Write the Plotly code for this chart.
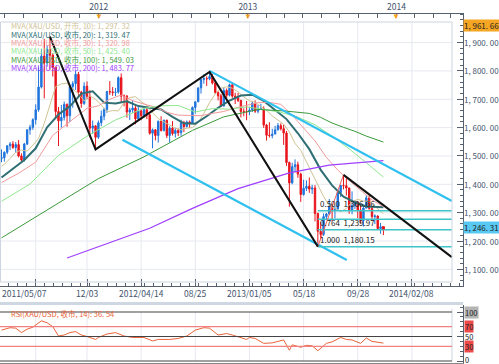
import pandas as pd
import plotly.graph_objects as go

W, H = 499, 364

# ---------------- data (weekly XAU/USD, week labels = Saturday) ----------------
week_start = "2011-05-07"
opens = [1491,1494,1513,1536,1542,1530,1540,1500,1486,1542,1592,1601,1628,1663,1743,1852,1828,1876,1855,1813,
         1657,1624,1636,1682,1642,1745,1755,1788,1725,1685,1746,1711,1598,1606,1566,1617,1640,1664,1727,1726,
         1724,1725,1776,1711,1711,1655,1662,1669,1631,1659,1642,1663,1645,1580,1592,1572,1622,1590,1626,1572,
         1598,1579,1590,1582,1618,1604,1620,1616,1671,1691,1740,1770,1773,1772,1780,1757,1724,1712,1676,1731,
         1714,1751,1711,1705,1696,1657,1656,1656,1662,1686,1658,1667,1667,1609,1573,1572,1577,1592,1607,1596,
         1581,1477,1405,1462,1469,1436,1364,1386,1393,1383,1387,1297,1234,1223,1286,1295,1322,1310,1313,1371,
         1396,1395,1387,1308,1325,1338,1309,1272,1316,1352,1315,1286,1288,1244,1250]
highs = [1523,1516,1537,1549,1552,1549,1556,1509,1546,1594,1610,1633,1682,1815,1877,1913,1890,1921,1862,1815,
         1673,1680,1692,1685,1750,1764,1803,1796,1730,1760,1763,1732,1625,1609,1625,1660,1670,1730,1764,1743,
         1740,1781,1791,1717,1715,1670,1696,1680,1676,1665,1670,1673,1648,1597,1595,1625,1640,1628,1628,1605,
         1623,1599,1597,1628,1624,1625,1625,1675,1692,1742,1772,1788,1781,1796,1789,1762,1728,1719,1741,1738,
         1755,1754,1723,1722,1698,1668,1694,1673,1694,1696,1680,1684,1675,1613,1619,1596,1606,1616,1615,1610,
         1588,1480,1476,1488,1480,1441,1416,1414,1424,1398,1397,1300,1267,1297,1299,1348,1331,1324,1380,1397,
         1433,1424,1388,1375,1344,1338,1328,1323,1361,1361,1322,1294,1290,1264,1250]
lows = [1478,1480,1506,1521,1525,1511,1495,1478,1480,1538,1575,1592,1611,1656,1738,1703,1815,1805,1780,1630,
        1535,1600,1625,1603,1619,1670,1733,1705,1670,1680,1700,1565,1578,1523,1560,1605,1626,1652,1715,1712,
        1711,1720,1688,1675,1635,1627,1652,1612,1628,1626,1635,1630,1575,1527,1555,1547,1586,1586,1563,1547,
        1572,1565,1570,1571,1584,1600,1599,1613,1649,1690,1720,1755,1747,1767,1752,1719,1696,1672,1675,1705,
        1710,1705,1683,1690,1636,1640,1626,1644,1655,1652,1650,1662,1599,1554,1565,1562,1577,1590,1590,1539,
        1465,1321,1400,1443,1423,1338,1360,1376,1370,1366,1269,1180,1207,1218,1275,1293,1270,1280,1310,1355,
        1382,1360,1296,1294,1313,1281,1261,1251,1316,1310,1270,1260,1240,1226,1221]
closes = [1494,1513,1536,1542,1530,1540,1500,1486,1542,1592,1601,1628,1663,1743,1852,1828,1876,1855,1813,1657,
          1624,1636,1682,1642,1745,1755,1788,1725,1685,1746,1711,1598,1606,1566,1617,1640,1664,1727,1726,1724,
          1725,1776,1711,1711,1655,1662,1669,1631,1659,1642,1663,1645,1580,1592,1572,1622,1590,1626,1572,1598,
          1579,1590,1582,1618,1604,1620,1616,1671,1691,1740,1770,1773,1772,1780,1757,1724,1712,1676,1731,1714,
          1751,1711,1705,1696,1657,1656,1656,1662,1686,1658,1667,1667,1609,1573,1572,1577,1592,1607,1596,1581,
          1477,1405,1462,1469,1436,1364,1386,1393,1383,1387,1297,1234,1223,1286,1295,1322,1310,1313,1371,1396,
          1395,1387,1308,1325,1338,1309,1272,1316,1352,1315,1286,1288,1244,1250,1246.31]

# moving averages (week index -> value)
ma10_idx = [0,1,3,5,7,9,11,13,15,17,19,21,23,25,27,29,31,33,35,37,39,41,43,45,47,49,51,53,55,57,59,61,63,65,67,69,
            71,73,75,77,79,81,83,85,87,89,91,93,95,97,99,101,103,105,107,109,111,113,115,117,119,121,123,125,127,129,131,133,134]
ma10_val = [1464,1470,1491,1513,1521,1517,1538,1562,1615,1681,1745,1754,1757,1736,1720,1694,1712,1700,1680,1656,1660,1659,
            1688,1706,1709,1692,1678,1652,1632,1620,1610,1598,1592,1598,1600,1617,1650,1688,1719,1739,1744,1739,1726,1708,
            1695,1689,1675,1661,1641,1626,1612,1585,1544,1520,1478,1436,1398,1357,1325,1313,1304,1315,1338,1347,1341,1340,
            1321,1305,1297.32]
ma20_idx = [0,4,8,12,16,20,24,28,32,36,40,44,48,52,56,60,64,68,72,76,80,84,88,92,96,100,104,108,112,116,120,124,128,132,134]
ma20_val = [1424,1455,1486,1527,1601,1646,1675,1720,1728,1688,1685,1693,1676,1670,1664,1638,1615,1614,1640,1670,1695,1713,
            1716,1694,1661,1630,1580,1524,1451,1396,1356,1336,1322,1321,1319.47]
ma30_idx = [0,6,12,18,24,30,34,38,42,46,50,54,58,62,66,70,74,78,82,86,90,94,98,102,106,110,114,118,122,126,130,134]
ma30_val = [1406,1439,1478,1573,1621,1668,1677,1700,1715,1695,1683,1672,1654,1644,1643,1642,1650,1657,1669,1678,1688,1689,
            1682,1644,1600,1553,1495,1450,1413,1378,1345,1320.98]
ma50_idx = [0,10,20,30,40,50,56,62,68,74,80,86,92,98,104,110,116,122,128,134]
ma50_val = [1340,1401,1502,1570,1627,1668,1677,1678,1655,1667,1665,1673,1664,1654,1637,1610,1570,1525,1476,1425.40]
ma100_idx = [0,17,34,50,67,78,90,99,104,108,112,116,120,124,128,132,134]
ma100_val = [1211,1317,1420,1497,1590,1638,1664,1659,1655,1650,1636,1616,1601,1587,1570,1555,1549.03]
ma200_idx = [23,34,52,67,83,101,115,134]
ma200_val = [1140,1180,1245,1315,1385,1440,1468,1483.77]

rsi_idx = [0,3,5,7,9,11,14,16,18,20,22,24,26,28,30,33,34,37,40,43,46,50,53,55,59,62,65,68,71,73,76,79,81,84,86,87,89,
           92,95,99,101,102,105,107,109,111,114,116,119,121,123,126,128,130,134]
rsi_val = [63,68,67,58,65,69,82,78,70,51,53,58,60,53,50,44,48,55,58,51,48,48,41,44,44,46,51,63,68,67,53,56,53,48,44,48,46,
           36,37,43,22,33,28,32,31,21,36,39,48,44,43,36,47,40,36.54]

# drawn analysis objects
zigzag_dates = ["2011-09-03", "2011-12-24", "2012-09-29", "2013-06-22"]
zigzag_prices = [1921, 1523, 1796, 1180.15]
down_trend_dates = ["2013-08-24", "2014-05-17"]
down_trend_prices = [1433.17, 1143]
chan_up_dates = ["2012-09-29", "2014-05-17"]
chan_up_prices = [1800, 1341]
chan_lo_dates = ["2012-02-28", "2013-09-01"]
chan_lo_prices = [1557, 1133]
fib_dates = ["2013-06-22", "2014-05-17"]
fib_swing_dates = ["2013-06-22", "2013-08-24"]
fib_swing_prices = [1180.15, 1433.17]
fib_ratios = [0.500, 0.618, 0.764, 1.000]
fib_prices = [1306.66, 1277.02, 1239.97, 1180.15]
fib_labelled = [0.500, 0.764, 1.000]

price_ticks = [1100, 1200, 1300, 1400, 1500, 1600, 1700, 1800, 1900]
grid_dates = ["2011-07-30", "2011-12-03", "2012-04-14", "2012-08-25", "2013-01-05", "2013-05-18", "2013-09-28", "2014-02-08"]
date_label_dates = ["2011-05-07", "2011-12-03", "2012-04-14", "2012-08-25", "2013-01-05", "2013-05-18", "2013-09-28", "2014-02-08"]
date_label_text = ["2011/05/07", "12/03", "2012/04/14", "08/25", "2013/01/05", "05/18", "09/28", "2014/02/08"]
year_dates = ["2012-01-01", "2013-01-01", "2014-01-01"]
last_price = 1246.31
top_marker_price = 1961.66

ma_labels = ["MVA(XAU/USD, 开市, 10): 1, 297. 32", "MVA(XAU/USD, 收市, 20): 1, 319. 47",
             "MVA(XAU/USD, 收市, 30): 1, 320. 98", "MVA(XAU/USD, 收市, 50): 1, 425. 40",
             "MVA(XAU/USD, 收市, 100): 1, 549. 03", "MVA(XAU/USD, 收市, 200): 1, 483. 77"]
ma_colors = ["#cfc393", "#2f6f74", "#f29a9a", "#8fe88f", "#3b9a3b", "#a040ff"]
ma_widths = [1, 2, 1, 1, 1, 1.3]
rsi_label = "RSI(XAU/USD, 收市, 14): 36. 54"

# ---------------- pixel calibration ----------------
REF_DATE, REF_X, PX_PER_DAY = pd.Timestamp("2011-12-03"), 87.0, 2.85 / 7
REF_P, REF_Y, PX_PER_USD = 1200.0, 241.0, 0.2835


def xdate(px):
    return REF_DATE + pd.Timedelta(days=(px - REF_X) / PX_PER_DAY)


def yprice(py):
    return REF_P + (REF_Y - py) / PX_PER_USD


def PX(px):
    return px / W


def PY(py):
    return 1 - py / H


RSI_Y100, RSI_Y0 = 312.0, 361.0
rsi_ppu = (RSI_Y0 - RSI_Y100) / 100.0


def rsi_at(py):
    return (RSI_Y0 - py) / rsi_ppu


dates = pd.date_range(week_start, periods=len(closes), freq="7D")


def fmt(v):
    s = f"{v:,.2f}"
    return s.replace(",", ", ").replace(".", ". ")


FONT = "Noto Sans CJK SC"
AXC = "#56606e"
LBL = "#44546e"

fig = go.Figure()

fig.add_trace(go.Candlestick(
    x=dates, open=opens, high=highs, low=lows, close=closes,
    increasing=dict(line=dict(color="#1f74dc", width=1), fillcolor="#1f74dc"),
    decreasing=dict(line=dict(color="#e8141c", width=1), fillcolor="#e8141c"),
    whiskerwidth=0, xaxis="x", yaxis="y", hoverinfo="skip"))

ma_sets = [(ma10_idx, ma10_val), (ma20_idx, ma20_val), (ma30_idx, ma30_val),
           (ma50_idx, ma50_val), (ma100_idx, ma100_val), (ma200_idx, ma200_val)]
for (idx, val), c, w in zip(ma_sets, ma_colors, ma_widths):
    fig.add_trace(go.Scatter(x=[dates[i] for i in idx], y=val, mode="lines",
                             line=dict(color=c, width=w), xaxis="x", yaxis="y"))

for dd, pp in [(chan_up_dates, chan_up_prices), (chan_lo_dates, chan_lo_prices)]:
    fig.add_trace(go.Scatter(x=dd, y=pp, mode="lines", line=dict(color="#30c0f0", width=2.2)))
for p in fib_prices:
    fig.add_trace(go.Scatter(x=fib_dates, y=[p, p], mode="lines", line=dict(color="#3cc4c8", width=1.5)))
fig.add_trace(go.Scatter(x=fib_swing_dates, y=fib_swing_prices, mode="lines",
                         line=dict(color="#f06060", width=1)))
fig.add_trace(go.Scatter(x=zigzag_dates, y=zigzag_prices, mode="lines", line=dict(color="#111111", width=2)))
fig.add_trace(go.Scatter(x=down_trend_dates, y=down_trend_prices, mode="lines", line=dict(color="#111111", width=2)))
fig.add_trace(go.Scatter(x=[dates[-1]], y=[last_price], mode="markers",
                         marker=dict(color="#e8141c", size=3, symbol="square")))

fig.add_trace(go.Scatter(x=[dates[i] for i in rsi_idx], y=rsi_val, mode="lines",
                         line=dict(color="#e8643a", width=1), xaxis="x3", yaxis="y3"))

x_range = [xdate(0), xdate(463)]
minor_ms = 19 * 7 / 6 * 86400000
top_ticks = pd.date_range("2011-05-15", "2014-06-10", freq="SMS")[::3]

shapes = []
for p in price_ticks:
    shapes.append(dict(type="line", xref="paper", yref="y", x0=PX(0), x1=PX(452), y0=p, y1=p,
                       line=dict(color="#e6e9ef", width=1), layer="below"))
for d in grid_dates:
    shapes.append(dict(type="line", xref="x", yref="paper", x0=d, x1=d, y0=PY(282), y1=PY(22),
                       line=dict(color="#e6e9ef", width=1), layer="below"))
    shapes.append(dict(type="line", xref="x", yref="paper", x0=d, x1=d, y0=PY(361), y1=PY(312),
                       line=dict(color="#e6e9ef", width=1), layer="below"))
shapes.append(dict(type="rect", xref="paper", yref="paper", x0=PX(0.5), x1=PX(452), y0=PY(282), y1=PY(22),
                   line=dict(color="#ccd5e0", width=1)))
shapes.append(dict(type="rect", xref="paper", yref="paper", x0=PX(0), x1=PX(463), y0=PY(305), y1=PY(302),
                   fillcolor="#cfd7e2", line=dict(width=0)))
shapes.append(dict(type="line", xref="paper", yref="paper", x0=PX(452), x1=PX(452), y0=PY(361), y1=PY(309),
                   line=dict(color="#ccd5e0", width=1)))
for lv, col in [(100, "#444444"), (70, "#f28080"), (50, "#444444"), (30, "#f28080"), (0, "#444444")]:
    shapes.append(dict(type="line", xref="paper", yref="y3", x0=PX(0), x1=PX(452), y0=lv, y1=lv,
                       line=dict(color=col, width=1.2)))

ann = []
ma_rows = [26, 34.3, 42.6, 51, 59.4, 67.8]
for t, c, r in zip(ma_labels, ma_colors, ma_rows):
    ann.append(dict(text=t, x=PX(9), y=PY(r), xref="paper", yref="paper", xanchor="left", yanchor="middle",
                    showarrow=False, font=dict(family=FONT, size=7.5, color=c)))
ann.append(dict(text=rsi_label, x=PX(9), y=PY(313), xref="paper", yref="paper", xanchor="left",
                yanchor="middle", showarrow=False, font=dict(family=FONT, size=7.5, color="#e8643a")))
for r, p in zip(fib_ratios, fib_prices):
    if r in fib_labelled:
        ann.append(dict(text=f"{r:.3f}  {p:,.2f}", x=fib_dates[0], y=p, xref="x", yref="y", xanchor="left",
                        yanchor="bottom", showarrow=False,
                        font=dict(family=FONT, size=8, color="#222222")))
for i, (d, t) in enumerate(zip(date_label_dates, date_label_text)):
    ann.append(dict(text=t, x=d if i else xdate(0), y=PY(293), xref="x", yref="paper",
                    xanchor="center" if i else "left", yanchor="middle",
                    showarrow=False, font=dict(family=FONT, size=8.5, color=LBL)))
for d in year_dates:
    ann.append(dict(text="▼", x=d, y=PY(15.5), xref="x", yref="paper", xanchor="center", yanchor="middle",
                    showarrow=False, font=dict(size=8, color="#f5a020")))
for v in price_ticks:
    ann.append(dict(text=fmt(v), x=PX(463), y=v, xref="paper", yref="y", xanchor="left", yanchor="middle",
                    showarrow=False, borderpad=0, font=dict(family=FONT, size=8, color=LBL)))
ann.append(dict(text=fmt(top_marker_price), x=PX(463), y=top_marker_price, xref="paper", yref="y",
                xanchor="left", yanchor="middle", showarrow=False, bgcolor="#f6a623", borderpad=0,
                font=dict(family=FONT, size=8, color="#222222")))
ann.append(dict(text=fmt(last_price), x=PX(463), y=last_price, xref="paper", yref="y",
                xanchor="left", yanchor="middle", showarrow=False, bgcolor="#59c8f2", borderpad=0,
                font=dict(family=FONT, size=8, color="#222222")))
for lv, bg in [(100, "#b4b4b4"), (70, "#ee4a4a"), (50, None), (30, "#ee4a4a"), (0, None)]:
    a = dict(text=str(lv), x=PX(464), y=lv, xref="paper", yref="y3", xanchor="left", yanchor="middle",
             yshift=2 if lv == 0 else 0,
             showarrow=False, borderpad=0, font=dict(family=FONT, size=7.5, color="#222222"))
    if bg:
        a["bgcolor"] = bg
    ann.append(a)

fig.update_layout(
    width=W, height=H, autosize=False, margin=dict(l=0, r=0, t=0, b=0),
    paper_bgcolor="white", plot_bgcolor="white", showlegend=False,
    xaxis=dict(domain=[0, PX(463)], range=x_range, type="date", anchor="y",
               showline=True, linecolor=AXC, linewidth=1, ticks="inside", ticklen=7, tickcolor=AXC,
               tickmode="array", tickvals=grid_dates, showticklabels=False, showgrid=False, zeroline=False,
               rangeslider=dict(visible=False),
               minor=dict(ticks="inside", ticklen=3, tickcolor=AXC, tickmode="linear",
                          tick0="2011-07-30", dtick=minor_ms, showgrid=False)),
    xaxis2=dict(overlaying="x", side="top", anchor="free", position=PY(13), range=x_range, type="date",
                showline=True, linecolor=AXC, ticks="inside", ticklen=4, tickcolor=AXC,
                tickmode="array", tickvals=list(top_ticks),
                ticktext=[str(t.year) if (t.month == 1 and t.day == 1) else "" for t in top_ticks],
                tickfont=dict(family=FONT, size=8.5, color=LBL), showgrid=False, zeroline=False),
    yaxis=dict(domain=[PY(286), PY(13)], range=[yprice(286), yprice(13)], side="right", anchor="x",
               showline=True, linecolor=AXC, ticks="inside", ticklen=6, tickcolor=AXC,
               tickmode="array", tickvals=price_ticks, showticklabels=False, showgrid=False, zeroline=False,
               minor=dict(ticks="inside", ticklen=3, tickcolor=AXC, dtick=20, tick0=0, showgrid=False)),
    xaxis3=dict(domain=[0, PX(463)], range=x_range, type="date", anchor="y3", showline=True,
                linecolor="#888888", ticks="", showticklabels=False, showgrid=False, zeroline=False),
    yaxis3=dict(domain=[PY(363), PY(305)], range=[rsi_at(363), rsi_at(305)], side="right", anchor="x3",
                showline=True, linecolor=AXC, ticks="inside", ticklen=6, tickcolor=AXC,
                tickmode="array", tickvals=[0, 50, 100], showticklabels=False, showgrid=False, zeroline=False,
                minor=dict(ticks="inside", ticklen=3, tickcolor=AXC, dtick=10, tick0=0, showgrid=False)),
    shapes=shapes, annotations=ann,
)
fig.add_trace(go.Scatter(x=[dates[0]], y=[None], xaxis="x2", yaxis="y", mode="lines"))

fig.write_html("out.html", config={"displayModeBar": False},
               post_script="document.body.style.margin='0px';document.body.style.overflow='hidden';")
